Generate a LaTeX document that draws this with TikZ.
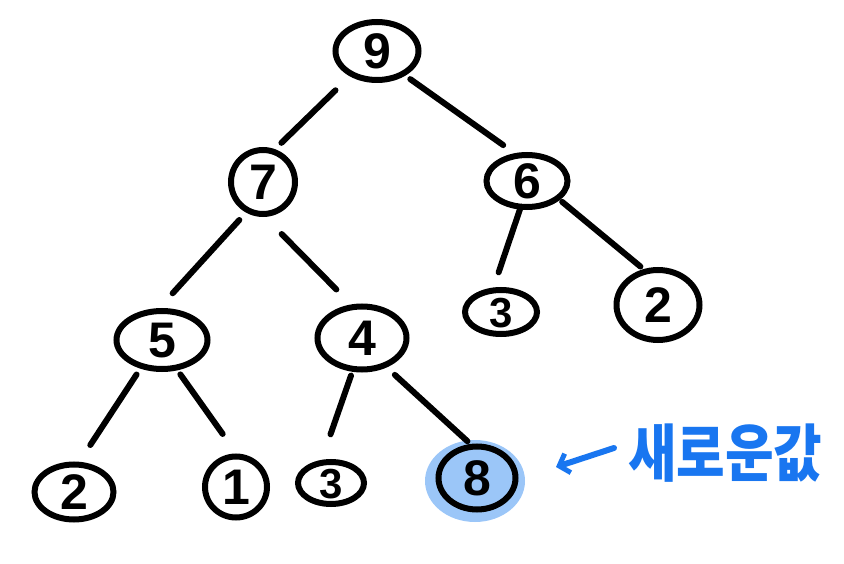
\documentclass[tikz,border=0pt]{standalone}
\usepackage{fontspec}
\setmainfont{Liberation Sans}
\newfontfamily\cjk{Noto Sans CJK KR}
\usetikzlibrary{shapes.geometric,arrows.meta}
\definecolor{penblue}{RGB}{25,118,240}
\definecolor{hlblue}{RGB}{155,198,248}
\newcommand{\dg}[1]{\smash{\raisebox{-0.358em}{\makebox[0pt]{#1}}}}
\begin{document}
\begin{tikzpicture}[x=1pt,y=-1pt,
  hnode/.style={ellipse,draw=black,line width=6pt,inner sep=0pt,font=\bfseries\fontsize{50}{50}\selectfont},
  small/.style={font=\bfseries\fontsize{42}{42}\selectfont},
  edge/.style={line width=6pt,line cap=round,draw=black}]
\useasboundingbox (0,0) rectangle (844,564);
\node[hnode,minimum width=83pt,minimum height=58pt] (n9) at (377,51) {\dg{9}};
\node[hnode,minimum width=64pt,minimum height=64pt] (n7) at (263,182) {\dg{7}};
\node[hnode,minimum width=81pt,minimum height=52pt] (n6) at (527,181) {\dg{6}};
\node[hnode,minimum width=91pt,minimum height=58pt] (n5) at (162,340) {\dg{5}};
\node[hnode,minimum width=89pt,minimum height=63pt] (n4) at (362,338) {\dg{4}};
\node[hnode,small,minimum width=72pt,minimum height=44pt] (n3a) at (501,312) {\dg{3}};
\node[hnode,minimum width=83pt,minimum height=70pt] (n2a) at (658,305) {\dg{2}};
\node[hnode,minimum width=79pt,minimum height=55pt] (n2b) at (74,492) {\dg{2}};
\node[hnode,minimum width=62pt,minimum height=61pt] (n1) at (236,487) {\dg{1}};
\node[hnode,small,minimum width=66pt,minimum height=42pt] (n3b) at (331,483) {\dg{3}};
\node[ellipse,fill=hlblue,minimum width=100pt,minimum height=82pt] (hl) at (475,481) {};
\node[hnode,minimum width=77pt,minimum height=63pt] (n8) at (477,478) {\dg{8}};
\draw[edge,shorten <=20pt,shorten >=9pt] (n9.223) -- (n7.70);
\draw[edge,shorten <=6pt,shorten >=14pt] (n9.319) -- (n6.114);
\draw[edge,shorten <=10pt,shorten >=20pt] (n7.241) -- (n5.95);
\draw[edge,shorten <=24pt,shorten >=21pt] (n7.273) -- (n4.108);
\draw[edge,shorten <=-3pt,shorten >=16pt] (n6.256) -- (n3a.107);
\draw[edge,shorten <=3pt,shorten >=4pt] (n6.330) -- (n2a.112);
\draw[edge,shorten <=7pt,shorten >=20pt] (n5.233) -- (n2b.80);
\draw[edge,shorten <=5pt,shorten >=24pt] (n5.297) -- (n1.89);
\draw[edge,shorten <=4pt,shorten >=27pt] (n4.254) -- (n3b.112);
\draw[edge,shorten <=11pt,shorten >=4pt] (n4.310) -- (n8.101);
\coordinate (arrS) at (614,448);
\coordinate (arrE) at (556,467);
\draw[line width=6pt,line cap=round,line join=round,draw=penblue,-{Straight Barb[length=9pt,width=20pt,line width=5pt]}] (arrS) -- (arrE);
\node[text=penblue,font=\cjk\bfseries\fontsize{48}{48}\selectfont,anchor=west,inner sep=0pt] (lbl) at (628,453) {\scalebox{1.1}[1.3]{새로운값}};
\end{tikzpicture}
\end{document}
